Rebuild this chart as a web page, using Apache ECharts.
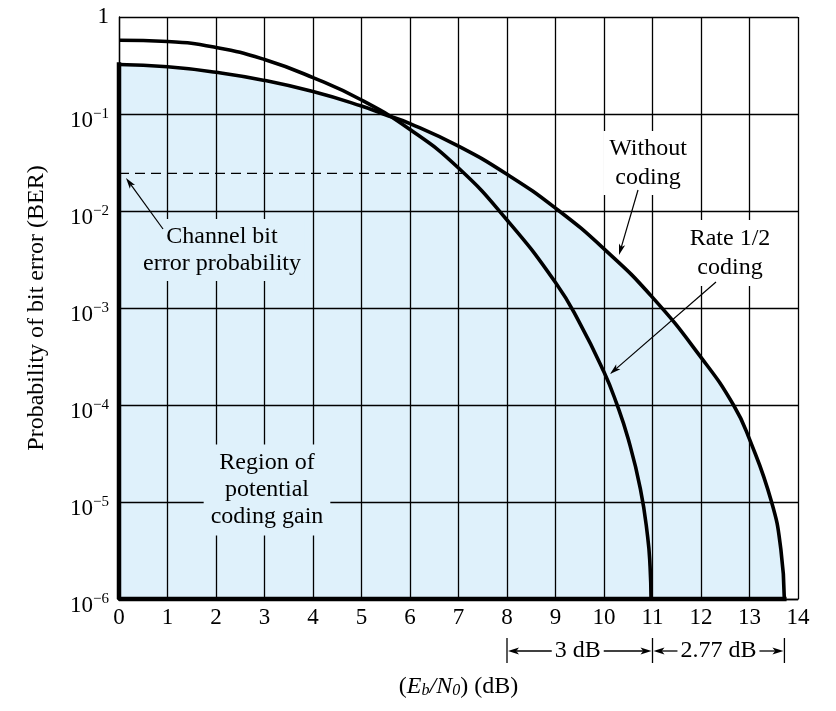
<!DOCTYPE html>
<html><head><meta charset="utf-8">
<script src="https://cdn.jsdelivr.net/npm/echarts@6/dist/echarts.min.js"></script>
<style>html,body{margin:0;padding:0;background:#fff}#c{width:836px;height:711px}</style>
</head><body><div id="c"></div>
<script>
// ---- data ----
const xTicks = [0,1,2,3,4,5,6,7,8,9,10,11,12,13,14];
const yTickExponents = [0,-1,-2,-3,-4,-5,-6];
const uncodedX   = [0, 1, 2, 3, 4, 5, 5.45, 6, 7, 8, 9, 10, 11, 12, 12.67, 13, 13.455, 13.647, 13.718];
const uncodedBER = [0.3237, 0.3066, 0.2691, 0.222, 0.1702, 0.1209, 0.1, 0.0796, 0.0466, 0.0239, 0.01069, 0.00407, 0.001286, 0.00031, 0.0001, 0.0000444, 0.00001, 0.00000324, 0.000001];
const codedX   = [0, 1, 2, 3, 4, 5, 6, 7, 8, 9, 9.5, 10, 10.25, 10.5, 10.75, 10.9, 10.95, 10.97];
const codedBER = [0.5764, 0.5589, 0.486, 0.3646, 0.2372, 0.1394, 0.0692, 0.02776, 0.008074, 0.001832, 0.000699, 0.0002183, 0.0001069, 0.0000445, 0.00001365, 0.00000439, 0.00000216, 0.000001];
const channelBER = 0.0244;
const channelX = [0, 7.85];
const gainMarks = [8, 11, 13.72];
const gainLabels = ['3 dB', '2.77 dB'];
const yMin = 1e-6, yMax = 1;

// ---- chart ----
const FONT = '"Liberation Serif","DejaVu Serif",serif';
const FILL = '#dff1fb';
const SMOOTH = 0.5;
const chart = echarts.init(document.getElementById('c'));
const zip = (xs, ys) => xs.map((x, i) => [x, ys[i]]);
const uncoded = zip(uncodedX, uncodedBER);
const coded = zip(codedX, codedBER);
const last = uncodedX.length - 1;
const edge = [[uncodedX[0], uncodedBER[0]], [uncodedX[0], yMin], [uncodedX[last], yMin]];

const option = {
  animation: false,
  backgroundColor: '#fff',
  grid: {left: 119, top: 17, width: 679, height: 582},
  xAxis: {
    type: 'value', min: 0, max: 14, interval: 1, z: 1,
    axisLine: {show: true, onZero: false, lineStyle: {color: '#000', width: 1.3}},
    axisTick: {show: false},
    axisLabel: {color: '#000', fontFamily: FONT, fontSize: 23, margin: 7,
      formatter: v => xTicks.includes(v) ? String(v) : ''},
    splitLine: {show: true, lineStyle: {color: '#000', width: 1.3}},
    name: '{n|(}{i|E}{sub|b}{i|/N}{sub|0}{n|) (dB)}',
    nameLocation: 'middle', nameGap: 76,
    nameTextStyle: {rich: {
      n: {fontFamily: FONT, fontSize: 24, color: '#000'},
      i: {fontFamily: FONT, fontSize: 24, fontStyle: 'italic', color: '#000'},
      sub: {fontFamily: FONT, fontSize: 16, fontStyle: 'italic', color: '#000', verticalAlign: 'bottom', lineHeight: 14}
    }}
  },
  yAxis: {
    type: 'log', logBase: 10, min: yMin, max: yMax, z: 1,
    axisLine: {show: true, lineStyle: {color: '#000', width: 1.3}},
    axisTick: {show: false},
    minorTick: {show: false}, minorSplitLine: {show: false},
    splitLine: {show: true, lineStyle: {color: '#000', width: 1.3}},
    axisLabel: {
      margin: 10,
      formatter: v => {
        const e = Math.round(Math.log10(v));
        if (!yTickExponents.includes(e)) return '';
        return e === 0 ? '{one|1}' : '{b|10}{s|\u2212' + (-e) + '}';
      },
      rich: {
        one: {fontFamily: FONT, fontSize: 23, color: '#000'},
        b: {fontFamily: FONT, fontSize: 23, color: '#000', verticalAlign: 'bottom'},
        s: {fontFamily: FONT, fontSize: 15, color: '#000', lineHeight: 36, verticalAlign: 'middle'}
      }
    },
    name: 'Probability of bit error (BER)',
    nameLocation: 'middle', nameGap: 70, nameRotate: 90,
    nameTextStyle: {fontFamily: FONT, fontSize: 24, color: '#000'}
  },
  series: [
    {type: 'line', name: 'fill', data: uncoded, smooth: SMOOTH, symbol: 'none', z: 0,
      lineStyle: {width: 0}, areaStyle: {color: FILL, opacity: 1, origin: 'start'}, silent: true},
    {type: 'line', name: 'Without coding', data: uncoded, smooth: SMOOTH, symbol: 'none', z: 3, clip: false,
      lineStyle: {color: '#000', width: 3.6}},
    {type: 'line', name: 'edge', data: edge, symbol: 'none', z: 3, clip: false,
      lineStyle: {color: '#000', width: 4.5, cap: 'square'}},
    {type: 'line', name: 'Rate 1/2 coding', data: coded, smooth: SMOOTH, symbol: 'none', z: 3, clip: false,
      lineStyle: {color: '#000', width: 3.6}},
    {type: 'line', name: 'channel', data: channelX.map(x => [x, channelBER]), symbol: 'none', z: 3,
      lineStyle: {color: '#000', width: 1.4, type: [10, 6]}}
  ]
};
chart.setOption(option);

function arrow(x1, y1, x2, y2, len, w, lw) {
  len = len || 11; w = w || 3.2; lw = lw || 1.2;
  const a = Math.atan2(y2 - y1, x2 - x1), c = Math.cos(a), s = Math.sin(a);
  const bx = x2 - len * c, by = y2 - len * s;
  const mx = x2 - len * 0.75 * c, my = y2 - len * 0.75 * s;
  const nx = -s * w, ny = c * w;
  return [
    {type: 'line', z: 100, shape: {x1, y1, x2: mx, y2: my}, style: {stroke: '#000', lineWidth: lw}},
    {type: 'polygon', z: 100, shape: {points: [[x2, y2], [bx + nx, by + ny], [mx, my], [bx - nx, by - ny]]}, style: {fill: '#000'}}
  ];
}
function label(x, y, text, bg, pad, lh) {
  return {type: 'text', z: 100, x, y, style: {
    text, fill: '#000', fontFamily: FONT, fontSize: 24, lineHeight: lh || 28,
    align: 'center', verticalAlign: 'middle', textAlign: 'center', textVerticalAlign: 'middle',
    backgroundColor: bg, padding: pad}};
}

const px = v => chart.convertToPixel({xAxisIndex: 0}, v);
const yb = 651;
const p0 = px(gainMarks[0]), p1 = px(gainMarks[1]), p2 = px(gainMarks[2]);
const c1 = (p0 + p1) / 2 - 2, c2 = (p1 + p2) / 2;
let g = [];
g.push(label(222, 250, 'Channel bit\nerror probability', FILL, [4, 4], 27));
g.push(label(648, 163, 'Without\ncoding', '#fff', [3, 6], 29));
g.push(label(730, 253, 'Rate 1/2\ncoding', '#fff', [4, 6], 29));
g.push(label(267, 490, 'Region of\npotential\ncoding gain', FILL, [5, 7], 27));
g = g.concat(arrow(163, 229, 126, 178));
g = g.concat(arrow(638, 190, 619, 255));
g = g.concat(arrow(716, 282, 610, 374));
[p0, p1, p2].forEach(p => g.push({type: 'line', z: 100, shape: {x1: p, y1: 638, x2: p, y2: 663}, style: {stroke: '#000', lineWidth: 1.3}}));
g.push(label(c1, yb, gainLabels[0], null, 0));
g.push(label(c2, yb, gainLabels[1], null, 0));
g = g.concat(arrow(c1 - 26, yb, p0 + 1, yb, 11, 3.5, 1.3));
g = g.concat(arrow(c1 + 26, yb, p1 - 1, yb, 11, 3.5, 1.3));
g = g.concat(arrow(c2 - 41, yb, p1 + 1, yb, 11, 3.5, 1.3));
g = g.concat(arrow(c2 + 41, yb, p2 - 1, yb, 11, 3.5, 1.3));
chart.setOption({graphic: {elements: g}});
</script></body></html>
